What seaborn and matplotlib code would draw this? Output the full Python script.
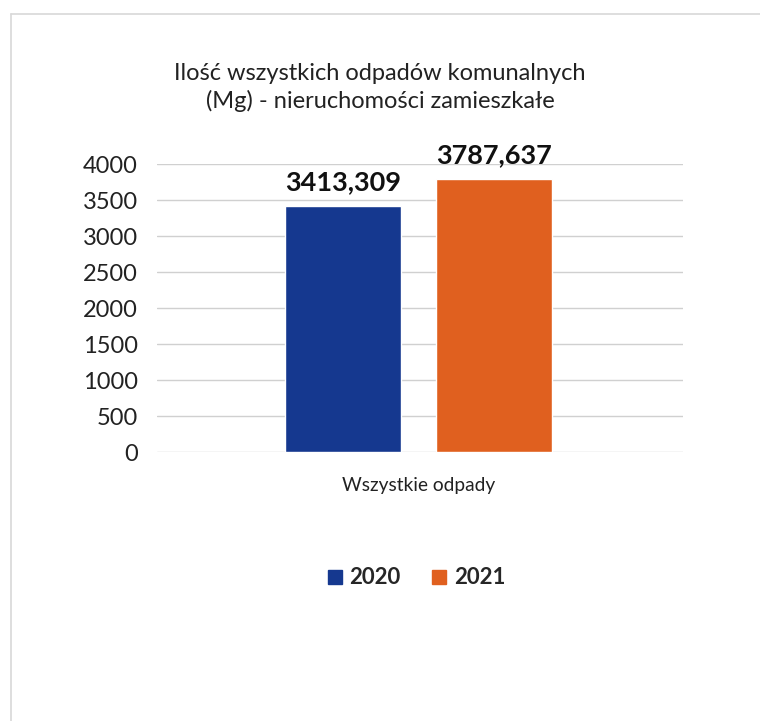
import matplotlib
matplotlib.use("Agg")
import matplotlib.pyplot as plt
import seaborn as sns
import pandas as pd
from matplotlib.lines import Line2D

categories = ["Wszystkie odpady"]
years = ["2020", "2021"]
values = [3413.309, 3787.637]
value_labels = ["3413,309", "3787,637"]
colors = ["#15388F", "#E0601F"]
yticks = [0, 500, 1000, 1500, 2000, 2500, 3000, 3500, 4000]

df = pd.DataFrame({"cat": categories * len(years), "year": years, "val": values})

sns.set_theme(style="white")
plt.rcParams['font.family'] = ['Lato', 'DejaVu Sans']

W, H = 760, 721
fig = plt.figure(figsize=(W / 100, H / 100), dpi=100)
ax = fig.add_axes([157 / W, 1 - 452 / H, (683 - 157) / W, (452 - 164) / H])

sns.barplot(data=df, x="cat", y="val", hue="year", palette=colors, ax=ax,
            width=0.8, gap=0.23, legend=False, saturation=1)

ax.set_ylim(0, 4000)
ax.set_xlim(-0.693, 0.700)
ax.set_yticks(yticks)
ax.set_yticklabels([str(t) for t in yticks], fontsize=17, color="#222222")
ax.tick_params(axis="y", length=0, pad=14)
ax.tick_params(axis="x", length=0, pad=18, labelsize=13.8, labelcolor="#222222")
ax.set_xlabel("")
ax.set_ylabel("")
ax.yaxis.grid(True, color="#D0D0D0", linewidth=1)
ax.set_axisbelow(True)
for s in ax.spines.values():
    s.set_visible(False)

for cont, lab in zip(ax.containers, value_labels):
    ax.bar_label(cont, labels=[lab], padding=9, fontsize=19.5, fontweight="bold", color="#111111")

fig.suptitle("Ilość wszystkich odpadów komunalnych\n(Mg) - nieruchomości zamieszkałe",
             x=380 / W, y=1 - 63 / H, fontsize=17, color="#222222", va="top", linespacing=1.35)

handles = [Line2D([0], [0], marker="s", linestyle="", markersize=9.5,
                  markerfacecolor=c, markeredgecolor=c) for c in colors]
leg = fig.legend(handles, years, loc="center", bbox_to_anchor=(416 / W, 1 - 578 / H),
                 ncol=2, frameon=False, handlelength=0.7, handletextpad=0.3,
                 columnspacing=1.4, prop={"weight": "bold", "size": 16})

# faint page frame from the scan
fig.add_artist(Line2D([11 / W, 760 / W], [1 - 14 / H, 1 - 14 / H], transform=fig.transFigure,
                      color="#D8D8D8", linewidth=1.2))
fig.add_artist(Line2D([11 / W, 11 / W], [1 - 14 / H, 0], transform=fig.transFigure,
                      color="#D8D8D8", linewidth=1.2))

fig.savefig("out.png", dpi=100)
